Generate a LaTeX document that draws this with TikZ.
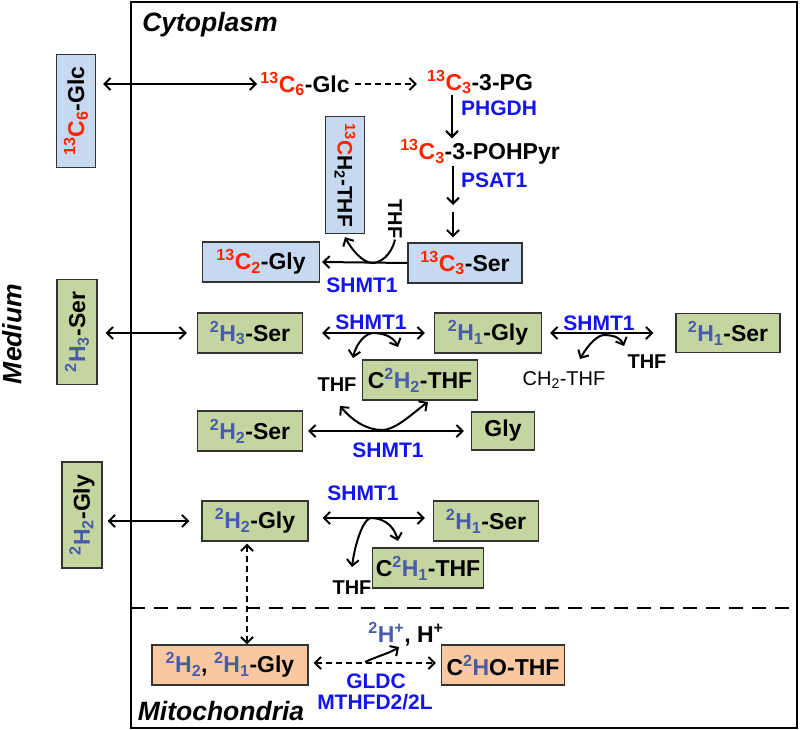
\documentclass[tikz,border=0pt]{standalone}
\usepackage{fontspec}
\setmainfont{Liberation Sans}
\usetikzlibrary{positioning,calc,arrows.meta}
\tikzset{>={Straight Barb[length=6pt,width=12pt]}}

\definecolor{isored}{RGB}{255,36,0}
\definecolor{isoblue}{RGB}{72,92,170}
\definecolor{enzblue}{RGB}{20,20,240}
\definecolor{boxblue}{RGB}{198,217,240}
\definecolor{boxgreen}{RGB}{196,213,159}
\definecolor{boxorange}{RGB}{250,200,160}

\newcommand{\boxfont}{\fontsize{23}{25}\selectfont\bfseries}
\newcommand{\enzfont}{\fontsize{21}{23}\selectfont\bfseries}
\newcommand{\coffont}{\fontsize{20}{22}\selectfont}
\newcommand{\regionfont}{\fontsize{26.5}{28}\selectfont\bfseries\itshape}
\newcommand{\carb}[1]{\textcolor{isored}{\textsuperscript{13}C\textsubscript{#1}}}
\newcommand{\deut}[1]{\textcolor{isoblue}{\textsuperscript{2}H\textsubscript{#1}}}

\tikzset{
  box/.style={draw=black!80, line width=1.3pt, inner sep=0pt, font=\boxfont},
  bluebox/.style={box, fill=boxblue},
  greenbox/.style={box, fill=boxgreen},
  orangebox/.style={box, fill=boxorange},
  chem/.style={font=\boxfont, inner sep=1pt},
  enz/.style={font=\enzfont, text=enzblue, inner sep=0pt},
  cof/.style={font=\coffont\bfseries, inner sep=1pt},
  region/.style={font=\regionfont, inner sep=0pt},
  flow/.style={line width=2pt},
  transport/.style={flow, dash pattern=on 6pt off 4pt},
}

\begin{document}
\begin{tikzpicture}[x=1pt,y=-1pt]
\useasboundingbox (0,0) rectangle (800,730);
% compartments
\draw[line width=2.2pt] (131,2) rectangle (797,728);
\draw[line width=2.8pt, dash pattern=on 14pt off 9pt] (131,608) -- (790,608);
\node[region] (cyto) at (210,25) {Cytoplasm};
\node[region,rotate=90] (medium) at (12,334) {Medium};
\node[region] (mito) at (221,711) {Mitochondria};

% glucose to serine
\node[bluebox,rotate=90,minimum width=113pt,minimum height=39pt] (mglc) at (76,111) {\carb{6}-Glc};
\node[chem] (glc) at (305,84) {\carb{6}-Glc};
\node[chem] (pg) at (480,82) {\carb{3}-3-PG};
\node[chem] (pohp) at (480,152) {\carb{3}-3-POHPyr};
\node[bluebox,minimum width=114pt,minimum height=40pt] (cser) at (465,263) {\carb{3}-Ser};
\node[bluebox,minimum width=117pt,minimum height=40pt] (cgly) at (261,262) {\carb{2}-Gly};
\node[bluebox,rotate=-90,minimum width=117pt,minimum height=39pt,font=\fontsize{21}{23}\selectfont\bfseries] (thfc) at (345,175)
  {\textcolor{isored}{\textsuperscript{13}C}H\textsubscript{2}-THF};
\node[cof,rotate=-90] (thfa) at (395,219) {THF};
\node[enz,anchor=west] (phgdh) at (461,108) {PHGDH};
\node[enz,anchor=west] (psat) at (461,180) {PSAT1};
\node[enz] (shmta) at (362,285) {SHMT1};
\coordinate (mid) at (453,208);
\coordinate (b1) at (372,263);

\draw[flow,<->] ([xshift=7pt]mglc.south |- glc.west) -- ([xshift=-2pt]glc.west);
\draw[transport,->] ([xshift=4pt]glc.east) -- ([xshift=-9pt]glc.east -| pg.west);
\draw[flow,->] ([xshift=-28pt]pg.south) -- ([xshift=-28pt]pohp.north);
\draw[flow,->] ([xshift=-27pt]pohp.south) -- ([yshift=3pt]mid);
\draw[flow,->] ([yshift=-4pt]mid) -- ([xshift=-12pt,yshift=5pt]cser.north);
\draw[flow,->] (cser.west) -- ([xshift=2pt]cgly.east);
\draw[flow,->] (thfa.east) .. controls (391,256) and (380,263) .. (b1)
  .. controls (362,262) and (352,250) .. ([yshift=-3pt]thfc.east);

% deuterated serine
\node[greenbox,rotate=90,minimum width=105pt,minimum height=40pt] (mser) at (77,332) {\deut{3}-Ser};
\node[greenbox,minimum width=105pt,minimum height=40pt] (ser3) at (250,333) {\deut{3}-Ser};
\node[greenbox,minimum width=107pt,minimum height=40pt] (gly1) at (488,333) {\deut{1}-Gly};
\node[greenbox,minimum width=104pt,minimum height=39pt] (ser1a) at (728,333) {\deut{1}-Ser};
\node[greenbox,minimum width=115pt,minimum height=40pt] (cthf2) at (420,380) {C\deut{2}-THF};
\node[cof] (thfb) at (337,385) {THF};
\node[cof,font=\coffont] (chthf) at (564,380) {CH\textsubscript{2}-THF};
\node[cof] (thfe) at (647,362) {THF};
\node[greenbox,minimum width=105pt,minimum height=40pt] (ser2) at (250,431) {\deut{2}-Ser};
\node[greenbox,minimum width=63pt,minimum height=38pt] (gly0) at (503,431) {Gly};
\node[enz] (shmtb) at (371,322) {SHMT1};
\node[enz] (shmtc) at (388,450) {SHMT1};
\node[enz] (shmtd) at (599,323) {SHMT1};
\coordinate (b2) at (372,333);
\coordinate (e2l) at (353,358);
\coordinate (e2r) at (398,347);
\coordinate (b3) at (382,430);
\coordinate (e3l) at (340,406);
\coordinate (e3r) at (428,402);
\coordinate (b4) at (603,335);
\coordinate (e4l) at (580,359);
\coordinate (e4r) at (624,346);

\draw[flow,<->] ([xshift=8pt]mser.south |- ser3.west) -- ([xshift=-10pt]ser3.west);
\draw[flow,<->] ([xshift=19pt]ser3.east) -- ([xshift=-9pt]gly1.west);
\draw[flow,->] (b2) .. controls (362,335) and (355,348) .. (e2l);
\draw[flow,->] (b2) .. controls (386,333) and (394,338) .. (e2r);
\draw[flow,<->] ([xshift=5pt]ser2.east) -- ([xshift=-7pt]gly0.west);
\draw[flow,<->] (e3l) .. controls (352,420) and (366,430) .. (b3)
  .. controls (396,430) and (414,412) .. (e3r);
\draw[flow,<->] ([xshift=8pt]gly1.east) -- ([xshift=-22pt]ser1a.west);
\draw[flow,->] (b4) .. controls (594,337) and (585,350) .. (e4l);
\draw[flow,->] (b4) .. controls (616,335) and (621,339) .. (e4r);

% deuterated glycine
\node[greenbox,rotate=90,minimum width=106pt,minimum height=40pt] (mgly) at (82,515) {\deut{2}-Gly};
\node[greenbox,minimum width=106pt,minimum height=40pt] (gly2) at (255,521) {\deut{2}-Gly};
\node[greenbox,minimum width=105pt,minimum height=40pt] (ser1b) at (486,521) {\deut{1}-Ser};
\node[greenbox,minimum width=111pt,minimum height=40pt] (cthf1) at (428,568) {C\deut{1}-THF};
\node[cof] (thfd) at (352,588) {THF};
\node[enz] (shmte) at (363,493) {SHMT1};
\coordinate (b5) at (370,518);
\coordinate (e5l) at (352,567);
\coordinate (e5r) at (398,541);

\draw[flow,<->] ([xshift=5pt]mgly.south |- gly2.west) -- ([xshift=-12pt]gly2.west);
\draw[flow,<->] ([xshift=14pt,yshift=3pt]gly2.east) -- ([xshift=-8pt,yshift=3pt]ser1b.west);
\draw[flow,->] (b5) .. controls (361,522) and (354,550) .. (e5l);
\draw[flow,->] (b5) .. controls (388,518) and (395,530) .. (e5r);

% mitochondria
\node[orangebox,minimum width=156pt,minimum height=40pt] (mgly2) at (230,665) {\deut{2}, \deut{1}-Gly};
\node[orangebox,minimum width=123pt,minimum height=40pt] (cho) at (503,665) {C\textcolor{isoblue}{\textsuperscript{2}H}O-THF};
\node[chem] (hplus) at (406,634) {\textcolor{isoblue}{\textsuperscript{2}H\textsuperscript{+}}, H\textsuperscript{+}};
\node[enz] (gldc) at (376,681) {GLDC};
\node[enz] (mthfd) at (375,702) {MTHFD2/2L};
\coordinate (b6) at (365,662);
\coordinate (e6) at (399,647);

\draw[transport,<->] ([xshift=-8pt,yshift=-2pt]gly2.south) -- ([xshift=-8pt]gly2.south |- mgly2.north);
\draw[transport,<->] ([xshift=5pt,yshift=2pt]mgly2.east) -- ([xshift=-5pt,yshift=2pt]cho.west);
\draw[flow,->] (b6) .. controls (378,656) and (390,653) .. (e6);
\end{tikzpicture}
\end{document}
